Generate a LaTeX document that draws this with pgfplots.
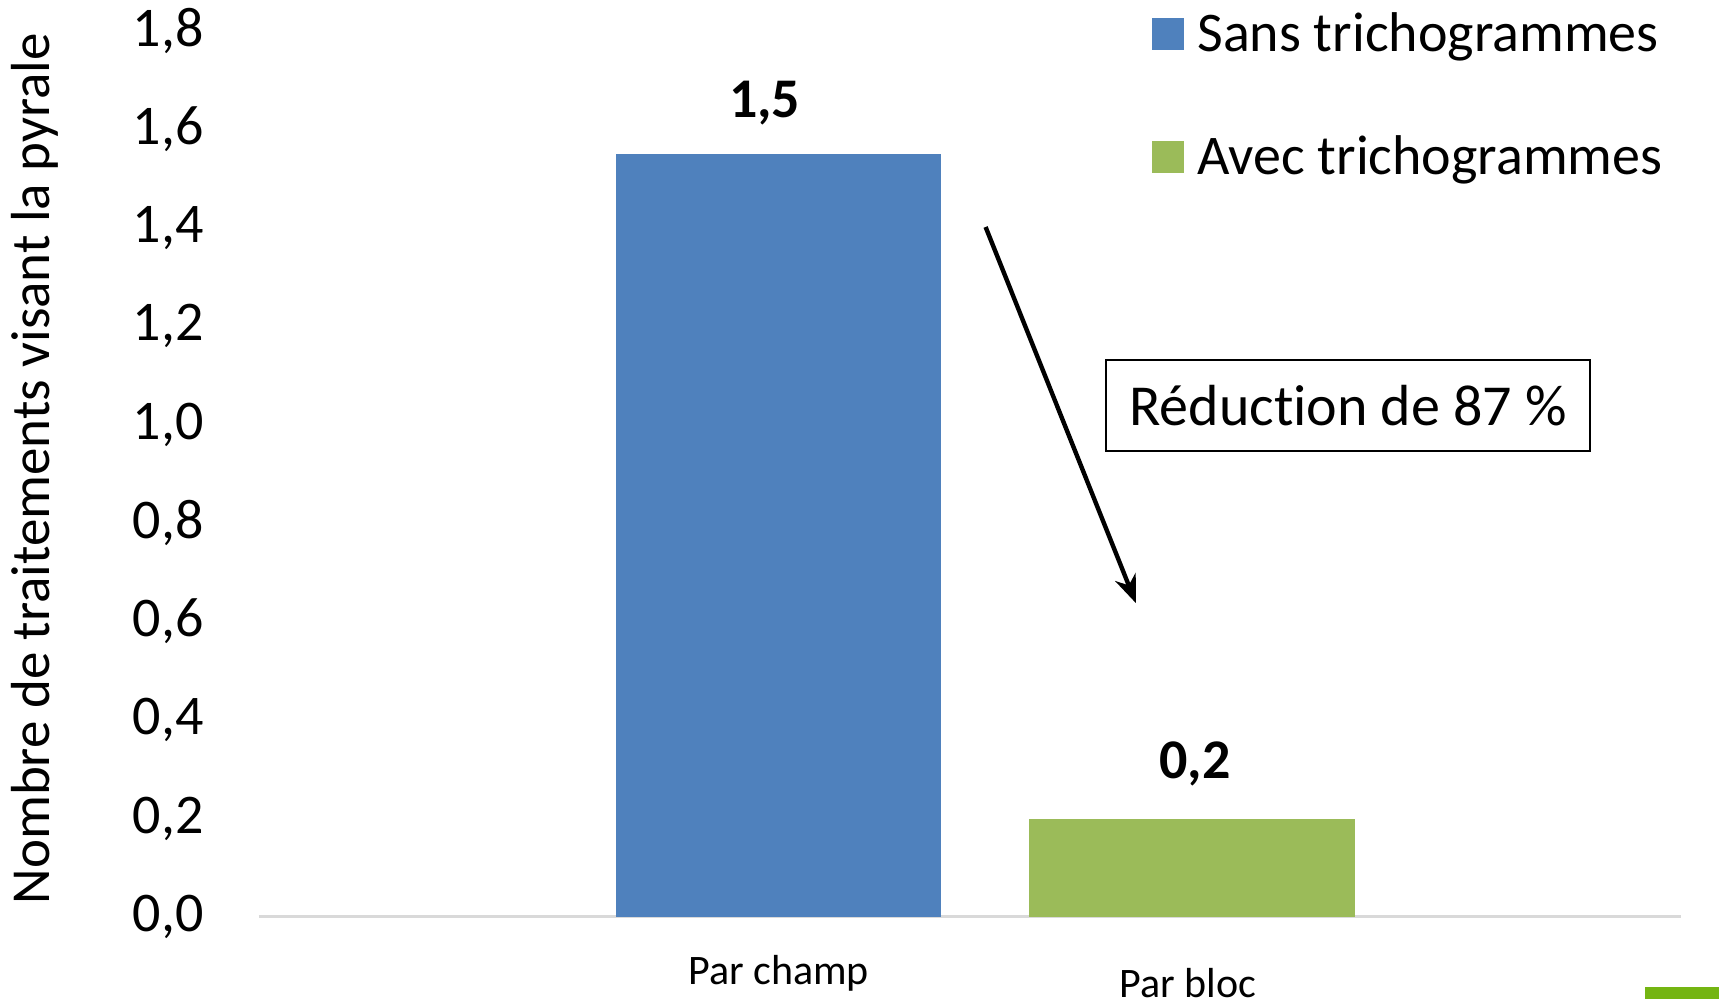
\documentclass[border=0pt]{standalone}
\usepackage{pgfplots}
\pgfplotsset{compat=1.18}
\usetikzlibrary{arrows.meta}
\usepackage{fontspec}
\setmainfont{Carlito}[Ligatures=NoCommon]
\definecolor{cblue}{HTML}{4F81BD}
\definecolor{cgreen}{HTML}{9BBB59}
\definecolor{cgrid}{HTML}{D9D9D9}
\definecolor{cbright}{HTML}{74B512}
\begin{document}
\begin{tikzpicture}
\useasboundingbox (-129.5pt,-41pt) rectangle (730pt,458.5pt);
\begin{axis}[
  at={(0pt,0pt)}, anchor=south west,
  scale only axis, width=711pt, height=443pt, clip=false,
  xmin=-1.257, xmax=2.183, ymin=0, ymax=1.8,
  axis x line*=bottom, axis y line*=left,
  y axis line style={draw=none},
  x axis line style={cgrid, line width=1.5pt, -},
  ytick={0,0.2,0.4,0.6,0.8,1.0,1.2,1.4,1.6,1.8},
  xtick=\empty,
  major tick length=0pt,
  yticklabel style={anchor=east, inner sep=0pt, xshift=-27.5pt, font=\fontsize{28}{30}\selectfont},
  /pgf/number format/.cd, fixed, fixed zerofill, precision=1, use comma, assume math mode=true,
  /pgfplots/.cd,
  legend style={draw=none, fill=none, inner sep=0pt, at={(0.628,1.021)}, anchor=north west,
    font=\fontsize{28}{30}\selectfont, row sep=40.7pt,
    nodes={inner sep=0pt}},
  legend cell align=left,
  legend image code/.code={\fill[#1] (0pt,-8pt) rectangle (16pt,8pt);},
]
\addplot[ybar, bar shift=0pt, bar width=0.788, fill=cblue, draw=none,
  nodes near coords={\textbf{1,5}},
  every node near coord/.append style={font=\fontsize{28}{30}\selectfont, anchor=center, yshift=25.3pt, xshift=-7pt, text=black}]
  coordinates {(0,1.55)};
\addlegendentry{\hspace{6.5pt}Sans trichogrammes}
\addplot[ybar, bar shift=0pt, bar width=0.788, fill=cgreen, draw=none,
  nodes near coords={\textbf{0,2}},
  every node near coord/.append style={font=\fontsize{28}{30}\selectfont, anchor=center, yshift=27.4pt, xshift=1.6pt, text=black}]
  coordinates {(1,0.2)};
\addlegendentry{\hspace{6.5pt}Avec trichogrammes}
\node[font=\fontsize{21}{24}\selectfont, anchor=center, yshift=-28pt] at (axis cs:0,0) {Par champ};
\node[font=\fontsize{21}{24}\selectfont, anchor=center, yshift=-33pt, xshift=-2pt] at (axis cs:1,0) {Par bloc};
\end{axis}
\node[rotate=90, font=\fontsize{27.5}{30}\selectfont] at (-112pt,224pt) {Nombre de traitements visant la pyrale};
\draw[line width=0.9pt, fill=white] (423.5pt,233pt) rectangle (665.5pt,278.5pt);
\node[font=\fontsize{29}{32}\selectfont] at (544.5pt,255.75pt) {Réduction de 87 \%};
\draw[line width=2.2pt, -{Stealth[length=14pt,width=11pt]}] (363.3pt,345pt) -- (438.4pt,157pt);
\fill[cbright] (693pt,-41pt) rectangle (730pt,-35pt);
\end{tikzpicture}
\end{document}
